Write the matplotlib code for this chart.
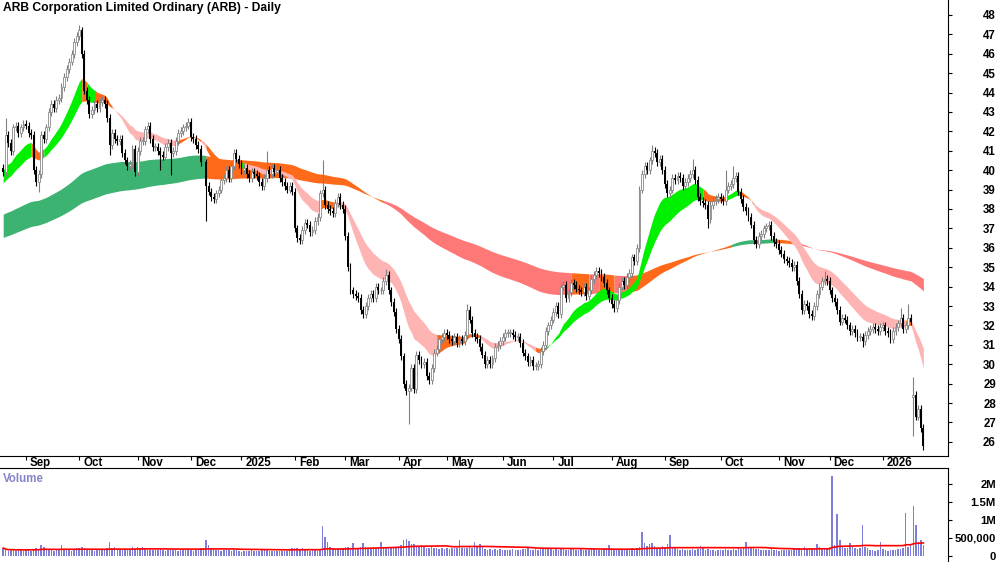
import numpy as np
import pandas as pd
import matplotlib
matplotlib.use('Agg')
import matplotlib.pyplot as plt

plt.rcParams['font.family'] = ['Liberation Sans', 'DejaVu Sans']
plt.rcParams['font.weight'] = 'bold'

# ASX trading calendar (weekdays minus exchange holidays)
holidays = ['2024-12-25', '2024-12-26', '2025-01-01', '2025-01-27', '2025-04-18',
            '2025-04-21', '2025-04-25', '2025-06-09', '2025-12-25', '2025-12-26',
            '2026-01-01', '2026-01-26']

# daily closes, Aug 2024 -> Jan 2026
closes = [
    39.9, 41.8, 41.4, 41.0, 42.2, 42.3, 41.9, 42.2, 42.4, 42.3,
    41.9, 41.8, 40.0, 39.4, 39.8, 41.8, 41.6, 42.2, 43.0, 43.4,
    43.2, 43.6, 43.7, 44.3, 44.8, 45.2, 45.6, 46.0, 46.6, 46.9,
    47.2, 46.0, 44.1, 43.6, 42.9, 43.1, 43.4, 43.2, 43.5, 43.6,
    43.4, 42.7, 41.3, 41.9, 41.6, 41.5, 41.6, 40.9, 40.5, 40.2,
    40.3, 41.1, 39.9, 41.0, 41.5, 41.5, 42.1, 42.3, 41.6, 41.2,
    41.2, 41.0, 40.8, 40.7, 41.2, 41.4, 40.9, 41.0, 41.5, 41.9,
    42.0, 42.2, 42.3, 42.5, 41.7, 41.6, 41.3, 41.1, 40.4, 40.4,
    39.2, 38.9, 38.6, 38.5, 38.8, 39.0, 39.5, 39.6, 40.0, 39.6,
    40.2, 40.9, 40.6, 40.3, 40.0, 40.1, 39.8, 39.6, 39.9, 39.8,
    39.7, 39.4, 39.2, 39.6, 40.0, 39.8, 40.1, 39.9, 40.0, 39.6,
    39.4, 39.2, 39.0, 39.2, 38.9, 37.0, 36.5, 36.4, 36.9, 37.3,
    37.2, 36.8, 36.9, 37.4, 37.6, 38.8, 39.0, 38.2, 38.0, 37.9,
    37.8, 38.3, 38.6, 38.2, 38.0, 36.6, 35.0, 33.8, 33.6, 33.5,
    33.4, 32.8, 32.6, 33.0, 33.4, 33.6, 33.4, 34.0, 33.8, 33.8,
    34.3, 34.6, 33.8, 33.2, 32.7, 31.8, 31.3, 30.4, 29.0, 28.6,
    28.8, 29.8, 28.7, 30.5, 30.2, 30.0, 30.1, 29.4, 29.2, 29.8,
    30.6, 30.8, 31.3, 31.4, 31.6, 31.5, 31.3, 31.2, 31.4, 31.1,
    31.3, 31.2, 31.5, 32.8, 32.3, 31.6, 31.4, 31.3, 30.9, 30.5,
    30.0, 30.2, 30.0, 30.3, 30.9, 31.0, 31.2, 31.4, 31.6, 31.6,
    31.6, 31.5, 31.4, 31.4, 31.1, 30.6, 30.4, 30.1, 30.2, 29.9,
    29.9, 30.0, 30.7, 31.0, 31.7, 32.0, 32.3, 32.7, 33.0, 32.6,
    34.0, 34.1, 33.4, 33.7, 34.2, 34.1, 33.9, 33.8, 33.7, 34.0,
    33.5, 33.8, 34.4, 34.6, 34.8, 34.7, 34.5, 34.2, 33.8, 33.4,
    33.1, 32.9, 33.3, 34.0, 34.3, 34.1, 34.5, 34.7, 35.5, 35.3,
    36.0, 39.0, 39.8, 40.2, 40.0, 40.5, 41.0, 40.9, 40.4, 40.6,
    40.0, 39.3, 38.8, 39.0, 39.6, 39.5, 39.7, 39.6, 39.2, 39.4,
    39.6, 39.8, 40.0, 39.5, 38.6, 38.4, 38.3, 38.2, 37.5, 38.2,
    38.4, 38.5, 38.6, 38.5, 38.4, 39.0, 39.2, 39.3, 39.6, 39.7,
    38.9, 38.5, 38.1, 37.9, 37.6, 37.2, 36.4, 36.2, 36.6, 36.7,
    37.0, 37.1, 37.2, 36.6, 36.3, 36.2, 35.9, 35.7, 35.4, 35.3,
    35.2, 35.0, 35.1, 34.3, 33.6, 32.8, 33.1, 33.0, 32.6, 32.5,
    33.0, 33.6, 34.0, 34.3, 34.4, 34.3, 33.8, 33.4, 33.2, 32.8,
    32.2, 32.4, 32.3, 32.0, 31.7, 31.8, 31.6, 31.4, 31.4, 31.2,
    31.5, 31.7, 31.8, 31.9, 31.8, 31.7, 31.9, 32.0, 31.7, 31.6,
    31.3, 31.7, 31.9, 32.1, 32.4, 31.8, 32.0, 32.4, 32.2,
    28.4, 27.3, 27.7, 26.7, 25.8,
]

# opens that gap away from the previous close
open_gaps = {0: 40.1, 359: 28.3}
# visible wick extremes
high_marks = {1: 42.7, 30: 47.5, 73: 42.7, 104: 41.0, 126: 40.5, 151: 34.9,
              183: 33.1, 256: 41.3, 272: 40.6, 285: 40.0, 288: 40.2,
              324: 34.8, 354: 32.9, 357: 33.1, 359: 29.35}
low_marks = {14: 38.9, 42: 40.8, 62: 40.0, 66: 39.75, 80: 37.4, 160: 26.9,
             278: 37.0, 339: 30.9, 359: 26.3}

# daily volume, thousands of shares
volumes_k = [
    220, 160, 150, 180, 170, 140, 190, 160, 150, 170,
    180, 150, 200, 210, 190, 300, 260, 170, 160, 180,
    150, 170, 190, 300, 180, 160, 170, 150, 190, 230,
    210, 250, 220, 180, 170, 160, 150, 170, 180, 160,
    170, 210, 380, 230, 250, 180, 170, 160, 190, 170,
    180, 250, 200, 260, 220, 250, 190, 170, 160, 180,
    170, 160, 200, 180, 150, 170, 190, 160, 170, 150,
    160, 180, 170, 190, 160, 150, 170, 200, 230, 210,
    440, 300, 220, 190, 170, 160, 150, 170, 180, 160,
    150, 170, 160, 140, 120, 130, 150, 140, 160, 150,
    140, 150, 160, 200, 170, 150, 140, 130, 150, 140,
    130, 150, 140, 160, 220, 210, 230, 200, 220, 170,
    160, 150, 170, 160, 150, 180, 830, 540, 400, 250,
    220, 200, 190, 210, 230, 260, 240, 220, 360, 230,
    210, 250, 350, 240, 230, 220, 250, 210, 230, 380,
    260, 230, 220, 250, 240, 260, 280, 300, 450, 480,
    420, 330, 340, 260, 250, 300, 240, 220, 230, 250,
    210, 230, 200, 220, 190, 210, 200, 230, 210, 220,
    440, 230, 220, 210, 240, 230, 400, 250, 330, 240,
    200, 180, 190, 170, 200, 180, 190, 170, 160, 180,
    170, 190, 180, 170, 160, 200, 190, 210, 180, 170,
    190, 180, 200, 220, 230, 210, 190, 180, 200, 170,
    210, 200, 180, 170, 190, 200, 180, 170, 190, 160,
    180, 170, 200, 190, 170, 160, 180, 200, 220, 300,
    210, 190, 170, 180, 200, 190, 170, 180, 220, 200,
    230, 250, 660, 360, 280, 340, 360, 270, 230, 210,
    290, 250, 330, 570, 240, 210, 190, 180, 200, 170,
    160, 180, 190, 170, 200, 290, 210, 180, 190, 170,
    160, 150, 170, 160, 180, 190, 170, 160, 200, 180,
    210, 200, 230, 400, 250, 220, 240, 200, 190, 180,
    170, 160, 180, 190, 170, 160, 150, 170, 180, 160,
    170, 180, 200, 210, 220, 230, 240, 200, 210, 190,
    220, 330, 250, 210, 190, 200, 260, 2220, 300, 1170,
    440, 250, 230, 210, 360, 240, 220, 200, 230, 850,
    250, 220, 180, 160, 150, 170, 380, 200, 160, 150,
    170, 160, 180, 190, 200, 230, 1200, 250, 300,
    1380, 860, 380, 440, 300,
]

month_labels = ['Sep', 'Oct', 'Nov', 'Dec', '2025', 'Feb', 'Mar', 'Apr', 'May', 'Jun',
                'Jul', 'Aug', 'Sep', 'Oct', 'Nov', 'Dec', '2026']

# ribbon colour state from each bar number on, as shown in the chart
short_states = [(0, 'up'), (11, 'mix'), (16, 'up'), (31, 'mix'), (33, 'up'),
                (36, 'mix'), (43, 'down'), (69, 'mix'), (78, 'down'), (80, 'mix'),
                (94, 'up'), (95, 'down'), (125, 'mix'), (131, 'down'), (171, 'mix'),
                (188, 'down'), (210, 'mix'), (214, 'up'), (276, 'mix'), (285, 'up'),
                (291, 'mix'), (296, 'down'), (356, 'mix'), (358, 'down')]
long_states = [(0, 'up'), (80, 'mix'), (150, 'down'), (224, 'mix'), (231, 'down'),
               (235, 'mix'), (241, 'down'), (246, 'mix'), (287, 'up'), (305, 'mix'),
               (315, 'down')]

# ribbon levels before the first bar, read at the left edge of the chart
short_seed = (40.0, 39.3)
long_seed = (37.7, 36.5)

dates = pd.bdate_range('2024-08-20', '2026-01-27')
dates = dates[~dates.isin(pd.to_datetime(holidays))]
n = len(closes)
dates = dates[:n]
x = np.arange(n)

c = np.array(closes)
o = np.r_[c[0], c[:-1]]
for k, v in open_gaps.items():
    o[k] = v
hi = np.maximum(o, c) + 0.2
lo = np.minimum(o, c) - 0.2
for k, v in high_marks.items():
    hi[k] = v
for k, v in low_marks.items():
    lo[k] = v
vol = np.array(volumes_k) * 1000.0


def ema(vals, span, seed):
    a = 2.0 / (span + 1)
    out = []
    e = seed
    for v in vals:
        e += a * (v - e)
        out.append(e)
    return np.array(out)


def draw_ribbon(ax, f, s, states, colors, z):
    bot, top = np.minimum(f, s), np.maximum(f, s)
    bounds = [b for b, _ in states] + [n - 1]
    for (start, st), end in zip(states, bounds[1:]):
        ax.fill_between(x[start:end + 1], bot[start:end + 1], top[start:end + 1],
                        color=colors[st], lw=0, zorder=z)


short_f = ema(c, 17, short_seed[0])
short_s = ema(c, 30, short_seed[1])
long_f = ema(c, 130, long_seed[0])
long_s = ema(c, 200, long_seed[1])

fig = plt.figure(figsize=(10, 5.62), dpi=100)
ax = fig.add_axes([0, 1 - 456 / 562, 0.948, 456 / 562])
axv = fig.add_axes([0, 0, 0.948, 94 / 562])

draw_ribbon(ax, long_f, long_s, long_states,
            {'up': '#3cb371', 'mix': '#ff6a1a', 'down': '#ff7878'}, 1)
draw_ribbon(ax, short_f, short_s, short_states,
            {'up': '#00f000', 'mix': '#ff6a1a', 'down': '#ffb4b4'}, 2)

rising = c >= o
wick_col = np.where(rising, '#808080', '#000000')
ax.vlines(x, lo, hi, colors=wick_col, lw=0.8, zorder=3)
body_h = np.maximum(np.abs(c - o), 0.04)
ax.bar(x[rising], body_h[rising], bottom=np.minimum(o, c)[rising], width=0.75,
       facecolor='white', edgecolor='#8a8a8a', lw=0.6, zorder=4)
ax.bar(x[~rising], body_h[~rising], bottom=np.minimum(o, c)[~rising], width=0.75,
       color='black', lw=0, zorder=4)

xmin, xmax = -1.26, 372.7
ax.set_xlim(xmin, xmax)
ax.set_ylim(25.27, 48.77)
ax.set_yticks(range(26, 49))
ax.yaxis.tick_right()
ax.tick_params(axis='y', length=3, pad=31.5, labelsize=8.3, direction='out')
for t in ax.get_yticklabels():
    t.set_horizontalalignment('right')

month_idx = []
prev = None
for i, d in enumerate(dates):
    if prev is not None and d.month != prev:
        month_idx.append(i)
    prev = d.month
ax.set_xticks(month_idx)
ax.tick_params(axis='x', length=3, labelbottom=False)
for i, lab in zip(month_idx, month_labels):
    ax.text(i + 1.6, -0.0155, lab, transform=ax.get_xaxis_transform(),
            ha='left', va='center', fontsize=8.3)

for side in ['top', 'left']:
    ax.spines[side].set_visible(False)
ax.spines['bottom'].set_linewidth(0.8)
ax.spines['right'].set_linewidth(0.8)

ax.text(0.003, 0.983, 'ARB Corporation Limited Ordinary (ARB) - Daily',
        transform=ax.transAxes, ha='left', va='center', fontsize=8.7)

# volume panel
axv.bar(x, vol, width=0.6, color='#7f7fd8', lw=0)
vol_ma = pd.Series(vol).rolling(50, min_periods=1).mean()
axv.plot(x, vol_ma, color='red', lw=1.2)
axv.set_xlim(xmin, xmax)
axv.set_ylim(-0.167e6, 2.444e6)
axv.set_xticks([])
axv.set_yticks([0, 500000, 1000000, 1500000, 2000000])
axv.set_yticklabels(['0', '500,000', '1M', '1.5M', '2M'])
axv.yaxis.tick_right()
axv.tick_params(axis='y', length=3, pad=31.5, labelsize=8.1)
for t in axv.get_yticklabels():
    t.set_horizontalalignment('right')
for side in ['left', 'bottom']:
    axv.spines[side].set_visible(False)
axv.spines['top'].set_linewidth(0.8)
axv.spines['right'].set_linewidth(0.8)
axv.text(0.003, 0.883, 'Volume', transform=axv.transAxes, ha='left', va='center',
         fontsize=8.3, color='#8585c8')

fig.savefig('out.png', dpi=100, facecolor='white')
